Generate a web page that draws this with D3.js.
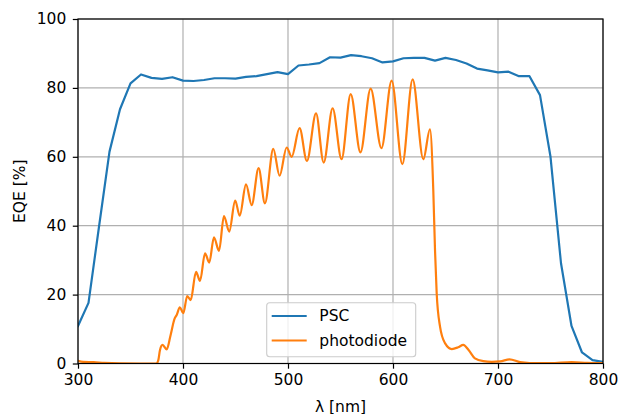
<!DOCTYPE html>
<html>
<head>
<meta charset="utf-8">
<script src="https://cdn.jsdelivr.net/npm/d3@7"></script>
<style>
  html, body { margin: 0; padding: 0; background: #fff; }
  svg { display: block; font-family: "DejaVu Sans", sans-serif; }
</style>
</head>
<body>
<svg id="chart" width="622" height="414"></svg>
<script>
// ---- data ----
const pscWavelength = [300,310,320,330,340,350,360,370,380,390,400,410,420,430,440,450,460,470,480,490,500,510,520,530,540,550,560,570,580,590,600,610,620,630,640,650,660,670,680,690,700,710,720,730,740,750,760,770,780,790,800];
const pscEQE = [10.9,17.6,39.7,61.5,73.8,81.3,83.9,82.9,82.6,83.1,82.1,82.0,82.3,82.8,82.8,82.7,83.2,83.4,84.0,84.6,84.0,86.5,86.8,87.2,88.9,88.8,89.5,89.2,88.6,87.4,87.7,88.6,88.7,88.7,87.9,88.7,88.1,87.1,85.6,85.1,84.5,84.7,83.4,83.4,77.9,60.0,29.1,10.9,3.2,1.0,0.5];

const pdWavelength = [300,305,315,325,340,360,374.5,376.5,378,380.5,384.5,388,392,394,397,400.3,404,407.3,412.4,416.2,421,425,429.5,434.3,439,444,449.7,454,460,465.4,472,478,486,492,498.7,503.5,511,518,526.7,534,542.5,551,559.7,569,578.7,589,598.7,608.9,618.7,628.9,635.2,638.4,640,641.6,644.8,649.5,656,662,667,672,678,686,694,702,711,721,730,750,770,785,800];
const pdEQE = [0.8,0.5,0.4,0.2,0.05,0,0,1.0,3.8,5.4,4.1,8,13,14.1,16.3,14.6,19.6,18.4,26.6,24.0,32.0,29.3,36.6,32.7,42.8,38.3,47.3,42.9,52.0,46.0,56.7,46.5,62.3,54.5,62.7,60.0,68.3,58.8,72.6,58.3,74.1,59.3,78.2,61.3,79.8,62.5,82.1,57.9,82.5,59.3,68.0,50.0,33.0,20.4,10.7,5.9,4.2,4.7,5.4,3.9,1.5,0.7,0.5,0.6,1.2,0.4,0.15,0.1,0.4,0.2,0.1];

const seriesNames = ["PSC", "photodiode"];
const xTicks = [300,400,500,600,700,800];
const yTicks = [0,20,40,60,80,100];

// ---- layout ----
const svg = d3.select("#chart");
const mLeft = 78, mRight = 603, mTop = 19, mBottom = 363.5;
const x = d3.scaleLinear().domain([300, 800]).range([mLeft, mRight]);
const y = d3.scaleLinear().domain([0, 100]).range([mBottom, mTop]);
const colors = ["#1f77b4", "#ff7f0e"];
const fontSize = 15.5;

// grid
const grid = svg.append("g");
grid.selectAll("line.gx").data(xTicks).enter().append("line")
  .attr("x1", d => x(d)).attr("x2", d => x(d)).attr("y1", mTop).attr("y2", mBottom)
  .attr("stroke", "#b0b0b0").attr("stroke-width", 1.2);
grid.selectAll("line.gy").data(yTicks).enter().append("line")
  .attr("x1", mLeft).attr("x2", mRight).attr("y1", d => y(d)).attr("y2", d => y(d))
  .attr("stroke", "#b0b0b0").attr("stroke-width", 1.2);

// lines
svg.append("clipPath").attr("id", "clip").append("rect")
  .attr("x", mLeft).attr("y", mTop).attr("width", mRight - mLeft).attr("height", mBottom - mTop);

const psc = pscWavelength.map((w, i) => [w, pscEQE[i]]);
const pd = pdWavelength.map((w, i) => [w, pdEQE[i]]);

const lineLin = d3.line().x(d => x(d[0])).y(d => y(d[1]));
const lineSmooth = d3.line().x(d => x(d[0])).y(d => y(d[1])).curve(d3.curveMonotoneX);

const plot = svg.append("g").attr("clip-path", "url(#clip)");
plot.append("path").datum(psc).attr("d", lineLin)
  .attr("fill", "none").attr("stroke", colors[0]).attr("stroke-width", 2.2)
  .attr("stroke-linejoin", "round").attr("stroke-linecap", "square");
plot.append("path").datum(pd).attr("d", lineSmooth)
  .attr("fill", "none").attr("stroke", colors[1]).attr("stroke-width", 2.2)
  .attr("stroke-linejoin", "round").attr("stroke-linecap", "square");

// axes
const xAxis = d3.axisBottom(x).tickValues(xTicks).tickSize(5.2).tickPadding(5.5).tickFormat(d3.format("d"));
const yAxis = d3.axisLeft(y).tickValues(yTicks).tickSize(5.2).tickPadding(6.5).tickFormat(d3.format("d"));

const gx = svg.append("g").attr("transform", `translate(0,${mBottom})`).call(xAxis);
const gy = svg.append("g").attr("transform", `translate(${mLeft},0)`).call(yAxis);
[gx, gy].forEach(g => {
  g.select(".domain").remove();
  g.selectAll(".tick line").attr("stroke", "#000").attr("stroke-width", 1.2);
  g.selectAll(".tick text").attr("font-size", fontSize).attr("fill", "#000")
    .attr("font-family", "DejaVu Sans");
});

// spines
svg.append("rect").attr("x", mLeft).attr("y", mTop).attr("width", mRight - mLeft).attr("height", mBottom - mTop)
  .attr("fill", "none").attr("stroke", "#000").attr("stroke-width", 1.2);

// axis labels
svg.append("text").attr("x", (mLeft + mRight) / 2).attr("y", 412)
  .attr("text-anchor", "middle").attr("font-size", fontSize).attr("fill", "#000").text("λ [nm]");
svg.append("text").attr("transform", `translate(25,${(mTop + mBottom) / 2}) rotate(-90)`)
  .attr("text-anchor", "middle").attr("font-size", fontSize).attr("fill", "#000").text("EQE [%]");

// legend
const lg = svg.append("g");
lg.append("rect").attr("x", 266.7).attr("y", 302.7).attr("width", 149).attr("height", 54)
  .attr("rx", 3).attr("fill", "#fff").attr("fill-opacity", 0.8)
  .attr("stroke", "#cccccc").attr("stroke-width", 1.1);
seriesNames.forEach((name, i) => {
  const yy = 316 + i * 24.5;
  lg.append("line").attr("x1", 271.7).attr("x2", 306.7).attr("y1", yy).attr("y2", yy)
    .attr("stroke", colors[i]).attr("stroke-width", 2.2);
  lg.append("text").attr("x", 319.3).attr("y", yy).attr("dy", "0.35em")
    .attr("font-size", fontSize).attr("fill", "#000").text(name);
});
</script>
</body>
</html>
